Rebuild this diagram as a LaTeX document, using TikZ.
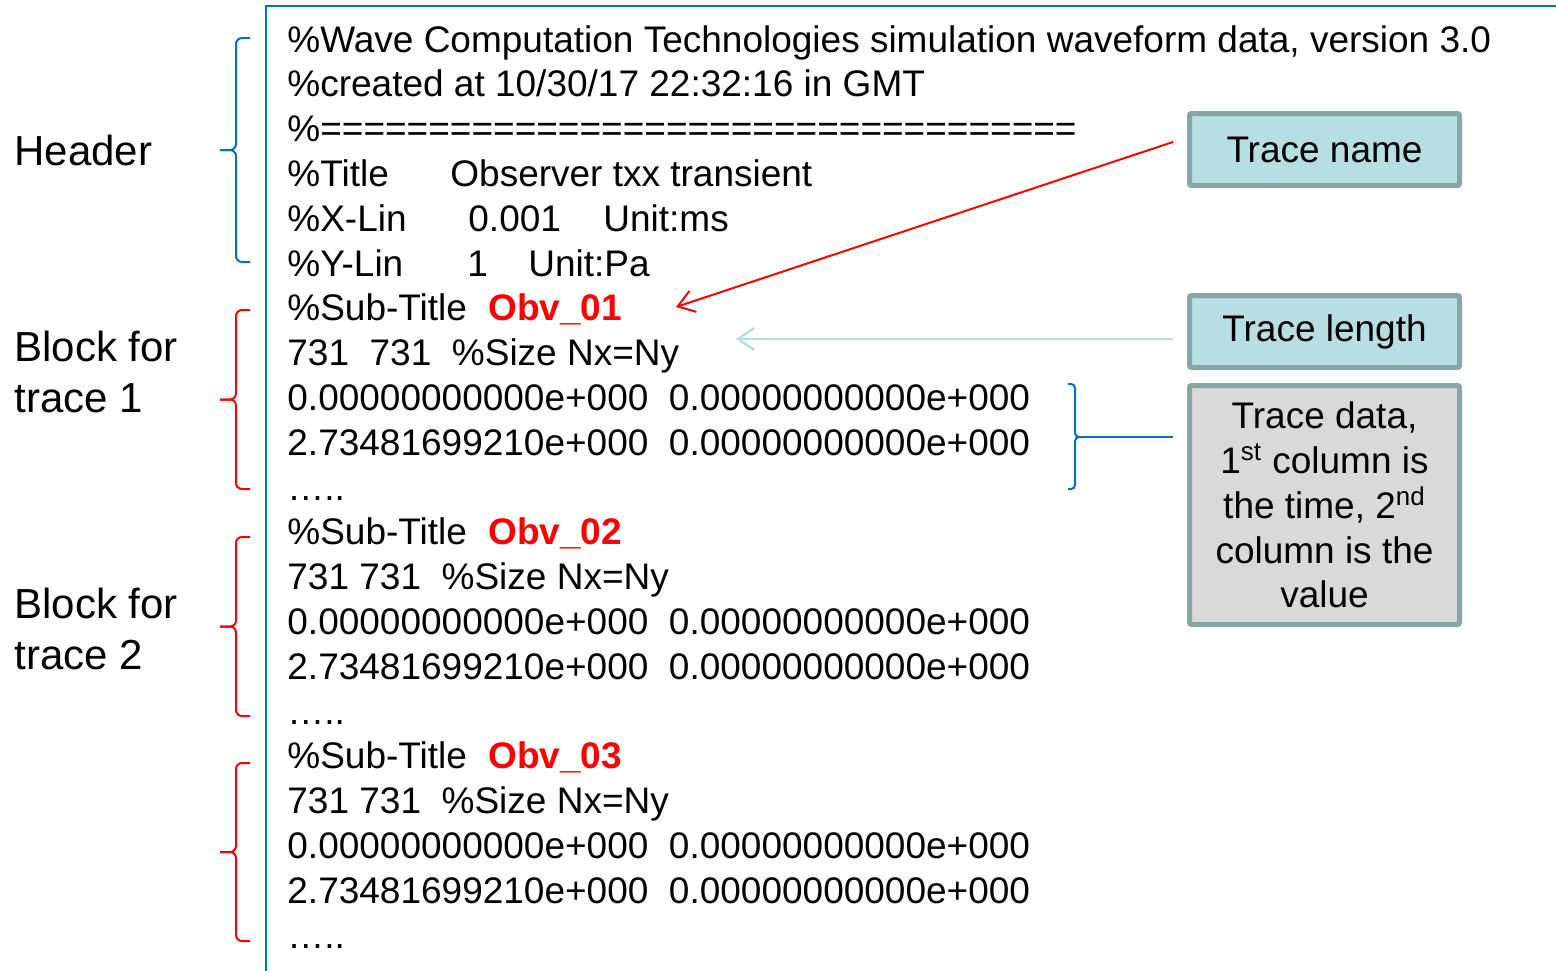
\documentclass[tikz,border=0pt]{standalone}
\usepackage{fontspec}
\setmainfont{Liberation Sans}
\usetikzlibrary{positioning,arrows.meta}

\definecolor{frameblue}{RGB}{0,112,192}
\definecolor{tagfill}{RGB}{183,222,226}
\definecolor{tagedge}{RGB}{137,165,168}
\definecolor{notefill}{RGB}{217,217,217}

\tikzset{
  codeline/.style={anchor=base west, inner sep=0pt,
                   font=\fontsize{18.5}{22.4}\selectfont},
  obvname/.style={codeline, text=red,
                  font=\fontsize{18.5}{22.4}\selectfont\bfseries},
  sidelabel/.style={anchor=base west, inner sep=0pt,
                    font=\fontsize{21}{25.2}\selectfont},
  tagbox/.style={draw=tagedge, fill=tagfill, line width=2.5pt,
                 rounded corners=1pt, inner sep=0pt,
                 minimum width=135pt, minimum height=36pt,
                 font=\fontsize{18.5}{22.4}\selectfont},
  bracket/.style={line width=1pt, rounded corners=3pt},
}

\begin{document}
\begin{tikzpicture}[x=0.5pt, y=-0.5pt]
  \useasboundingbox (0,0) rectangle (1556,970);

  % frame round the file listing
  \draw[frameblue, line width=1.25pt] (266,975) -- (266,6) -- (1560,6);

  % header of the file
  \node[codeline] (wave) at (287,52) {\%Wave Computation Technologies simulation waveform data, version 3.0};
  \node[codeline] (created) at (287,96.8) {\%created at 10/30/17 22:32:16 in GMT};
  \node[codeline] (rule) at (287,141.6) {\%===================================};
  \node[codeline] (title) at (287,186.4) {\%Title};
  \node[codeline] (titleVal) at (450,186.4) {Observer txx transient};
  \node[codeline] (xlin) at (287,231.2) {\%X-Lin};
  \node[codeline] (xlinStep) at (468,231.2) {0.001};
  \node[codeline] (xlinUnit) at (603,231.2) {Unit:ms};
  \node[codeline] (ylin) at (287,276) {\%Y-Lin};
  \node[codeline] (ylinStep) at (467,276) {1};
  \node[codeline] (ylinUnit) at (528,276) {Unit:Pa};

  % one block per trace
  \foreach \i/\y/\gap in {1/320.8/{\ \ }, 2/544.8/{\ }, 3/768.8/{\ }} {
    \node[codeline] (sub\i) at (287,\y) {\%Sub-Title};
    \node[obvname] (obv\i) at (488,\y) {Obv\_0\i};
    \node[codeline] (size\i) at (287,\y+44.8) {731\gap731\ \ \%Size Nx=Ny};
    \node[codeline] (first\i) at (287,\y+89.6) {0.00000000000e+000\ \ 0.00000000000e+000};
    \node[codeline] (second\i) at (287,\y+134.4) {2.73481699210e+000\ \ 0.00000000000e+000};
    \node[codeline] (dots\i) at (287,\y+179.2) {…..};
  }

  % braces on the left: top, bottom, colour
  \foreach \top/\bot/\col in {38/262/frameblue, 310/489/red, 537/716/red, 763/941/red} {
    \draw[bracket, \col] (250,\top) -- (236,\top) -- (236,{(\top+\bot)/2}) -- (220,{(\top+\bot)/2});
    \draw[bracket, \col] (220,{(\top+\bot)/2}) -- (236,{(\top+\bot)/2}) -- (236,\bot) -- (250,\bot);
  }

  \node[sidelabel] (headerLabel) at (14,165) {Header};
  \node[sidelabel] (block1Label) at (14,361) {Block for};
  \node[sidelabel] (block1Trace) at (14,412) {trace 1};
  \node[sidelabel] (block2Label) at (14,618) {Block for};
  \node[sidelabel] (block2Trace) at (14,669) {trace 2};

  % notes on the right
  \node[tagbox] (nameBox) at (1324.5,149.5) {Trace name};
  \node[tagbox] (lengthBox) at (1324.5,331.5) {Trace length};
  \node[tagbox, fill=notefill, minimum height=119.5pt, align=center] (dataBox) at (1324.5,505)
    {Trace data,\\1\textsuperscript{st} column is\\the time, 2\textsuperscript{nd}\\column is the\\value};

  \coordinate (nameTip) at (676,307);
  \draw[red, line width=1pt, -{Straight Barb[length=8pt,width=11pt]}]
    ([xshift=-7pt,yshift=3.75pt]nameBox.west) -- (nameTip);

  \coordinate (lengthTip) at (736,339);
  \draw[tagfill, line width=1.25pt, -{Straight Barb[length=8pt,width=11pt]}]
    ([xshift=-7pt,yshift=-3.75pt]lengthBox.west) -- (lengthTip);

  % bracket round the two data rows
  \coordinate (dataTip) at (1082,437);
  \draw[bracket, frameblue, rounded corners=2pt] (1068,384) -- (1075,384) -- (1075,437) -- (dataTip);
  \draw[bracket, frameblue, rounded corners=2pt] (dataTip) -- (1075,437) -- (1075,489) -- (1068,489);
  \draw[frameblue, line width=1pt, shorten >=7pt] (dataTip) -- (dataTip -| dataBox.west);
\end{tikzpicture}
\end{document}
